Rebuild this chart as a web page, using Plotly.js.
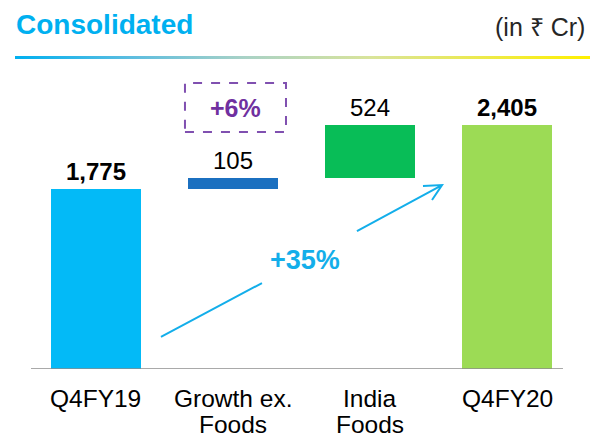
<!DOCTYPE html>
<html>
<head>
<meta charset="utf-8">
<script src="https://cdn.plot.ly/plotly-3.0.1.min.js"></script>
<style>
  html, body { margin: 0; padding: 0; background: #fff; }
  #wrap { position: relative; width: 590px; height: 438px; }
  #chart { width: 590px; height: 438px; }
  #rule { position: absolute; left: 15px; top: 56px; width: 575px; height: 3px;
          background: linear-gradient(to right, #00B0F0 0%, #5CBDE0 20%, #A9D2C6 40%, #D9E49A 62%, #FFF000 100%);
          z-index: 5; }
</style>
</head>
<body>
<div id="wrap">
  <div id="chart"></div>
  <div id="rule"></div>
</div>
<script>
// ---- data ----
const categories = ["Q4FY19", "Growth ex.<br>Foods", "India<br>Foods", "Q4FY20"];
const values = [1775, 105, 524, 2405];
const measures = ["absolute", "relative", "relative", "total"];
const valueLabels = ["1,775", "105", "524", "2,405"];
const labelBold = [true, false, false, true];
const barColors = ["#03BAF7", "#1B70C0", "#08BD57", "#9CDB55"];
const growthLabel = "+6%";
const totalGrowthLabel = "+35%";
const titleText = "Consolidated";
const unitText = "(in \u20B9 Cr)";

// ---- waterfall bases ----
const bases = [], tops = [];
let running = 0;
values.forEach((v, i) => {
  if (measures[i] === "relative") { bases.push(running); running += v; }
  else { bases.push(0); running = v; }
  tops.push(bases[i] + values[i]);
});
const xIdx = categories.map((_, i) => i);

const FONT = "Liberation Sans, Arial, Helvetica, sans-serif";

const trace = {
  type: "bar",
  x: xIdx,
  y: values,
  base: bases,
  width: 0.656,
  marker: { color: barColors, line: { width: 0 } },
  hoverinfo: "skip"
};

const annotations = [];
// value labels
valueLabels.forEach((t, i) => {
  annotations.push({
    x: i, y: tops[i], xref: "x", yref: "y",
    text: labelBold[i] ? "<b>" + t + "</b>" : t,
    showarrow: false, xanchor: "center", yanchor: "bottom", yshift: 2,
    font: { family: FONT, size: 24, color: "#000" }
  });
});
// category labels (one annotation per line for tight line spacing)
categories.forEach((c, i) => {
  c.split("<br>").forEach((line, k) => {
    annotations.push({
      x: i, y: 0, xref: "x", yref: "y",
      text: line, showarrow: false, xanchor: "center", yanchor: "top",
      yshift: -14 - 26 * k,
      font: { family: FONT, size: 24.5, color: "#000" }
    });
  });
});
// growth percent in dashed box
annotations.push({
  x: 1.02, y: 2580, xref: "x", yref: "y",
  text: "<b>" + growthLabel + "</b>", showarrow: false,
  xanchor: "center", yanchor: "middle",
  font: { family: FONT, size: 25, color: "#7030A0" }
});
// total growth label
annotations.push({
  x: 1.526, y: 1075, xref: "x", yref: "y",
  text: "<b>" + totalGrowthLabel + "</b>", showarrow: false,
  xanchor: "center", yanchor: "middle",
  font: { family: FONT, size: 27, color: "#13AEEA" }
});
// unit text
annotations.push({
  x: 1.020, y: 1.144, xref: "paper", yref: "paper",
  text: unitText, showarrow: false, xanchor: "right", yanchor: "middle",
  font: { family: FONT, size: 25, color: "#262626" }
});

const shapes = [
  // baseline
  { type: "line", xref: "x", yref: "y", x0: -0.471, x1: 3.405, y0: 0, y1: 0,
    line: { color: "#8C8C8C", width: 1.5 } },
  // dashed box
  { type: "rect", xref: "x", yref: "y", x0: 0.651, x1: 1.387, y0: 2338, y1: 2822,
    line: { color: "#8050B0", width: 2, dash: "dash" }, fillcolor: "rgba(0,0,0,0)" },
  // arrow with gap and open head
  { type: "path", xref: "x", yref: "y",
    path: "M 0.476,316 L 1.212,848 M 1.904,1361 L 2.524,1815 M 2.385,1805 L 2.524,1815 L 2.451,1667",
    line: { color: "#13AEEA", width: 2 } }
];

const layout = {
  width: 590, height: 438,
  margin: { l: 27, r: 14, t: 70, b: 69, pad: 0 },
  paper_bgcolor: "#fff", plot_bgcolor: "#fff",
  showlegend: false,
  title: {
    text: "<b>" + titleText + "</b>",
    x: 16 / 590, xanchor: "left", xref: "container",
    y: 1 - 24 / 438, yanchor: "middle", yref: "container",
    font: { family: FONT, size: 28, color: "#00B0F0" }
  },
  xaxis: {
    type: "linear", range: [-0.5, 3.5], showgrid: false, zeroline: false,
    showline: false, showticklabels: false, ticks: "", fixedrange: true
  },
  yaxis: {
    range: [0, 2950], showgrid: false, zeroline: false, showline: false,
    showticklabels: false, ticks: "", fixedrange: true
  },
  bargap: 0,
  annotations: annotations,
  shapes: shapes
};

Plotly.newPlot("chart", [trace], layout, { displayModeBar: false, staticPlot: true });
</script>
</body>
</html>
